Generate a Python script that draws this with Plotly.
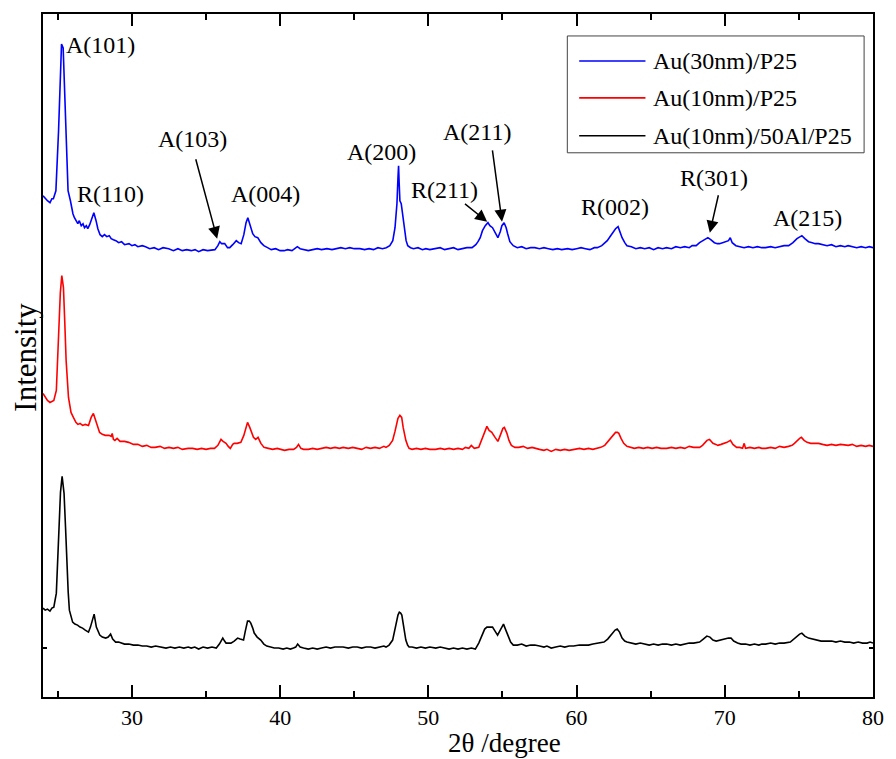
import plotly.graph_objects as go

# ---------------- data (2theta in degree, intensity in a.u. incl. stacking offset) -------------
SERIES_NAMES = ["Au(30nm)/P25", "Au(10nm)/P25", "Au(10nm)/50Al/P25"]
SERIES_COLORS = ["#0000FF", "#FF0000", "#000000"]

blue_pts = [
    (24.00, 502), (24.15, 499), (24.30, 497), (24.47, 495), (24.60, 499), (24.70, 499), (24.87, 507),
    (25.05, 567), (25.15, 620), (25.25, 654), (25.36, 650), (25.45, 610), (25.54, 567), (25.69, 507),
    (25.85, 497), (25.95, 489), (26.02, 484), (26.12, 480), (26.25, 477), (26.35, 474), (26.45, 477),
    (26.58, 472), (26.70, 474), (26.80, 470), (26.92, 472), (27.02, 469), (27.15, 473), (27.25, 477),
    (27.43, 485), (27.58, 477), (27.70, 469), (27.85, 463), (28.00, 461), (28.15, 463), (28.30, 461),
    (28.47, 462), (28.60, 459), (28.75, 458), (28.92, 457), (29.10, 455), (29.30, 456), (29.50, 453),
    (29.80, 454), (30.00, 452), (30.20, 453), (30.40, 451), (30.70, 452), (30.92, 451), (31.20, 449),
    (31.50, 450), (31.80, 448), (32.10, 450), (32.48, 449), (32.80, 447), (33.10, 449), (33.40, 447),
    (33.70, 448), (34.00, 447), (34.26, 448), (34.50, 446), (34.80, 448), (35.10, 447), (35.40, 448),
    (35.60, 448), (35.80, 452), (35.93, 456), (36.05, 454), (36.26, 454), (36.45, 450), (36.60, 450),
    (36.80, 453), (37.04, 457), (37.20, 455), (37.37, 454), (37.55, 463), (37.70, 475), (37.82, 480),
    (37.95, 474), (38.15, 464), (38.30, 461), (38.49, 460), (38.70, 455), (38.90, 452), (39.15, 450),
    (39.40, 448), (39.70, 449), (40.00, 447), (40.27, 447), (40.50, 448), (40.80, 447), (41.00, 449),
    (41.16, 451), (41.35, 449), (41.60, 448), (41.90, 447), (42.20, 448), (42.50, 449), (42.80, 448),
    (43.16, 449), (43.50, 448), (43.80, 449), (44.10, 450), (44.40, 449), (44.70, 450), (45.00, 449),
    (45.38, 449), (45.70, 448), (46.00, 449), (46.30, 448), (46.60, 450), (46.90, 449), (47.16, 450),
    (47.40, 452), (47.60, 457), (47.75, 470), (47.88, 494), (47.95, 520), (47.99, 532), (48.03, 515),
    (48.08, 497), (48.17, 494), (48.28, 482), (48.39, 467), (48.50, 457), (48.61, 452), (48.80, 450),
    (49.00, 449), (49.30, 450), (49.60, 448), (49.83, 449), (50.10, 448), (50.50, 449), (50.80, 450),
    (51.10, 448), (51.40, 449), (51.70, 450), (52.00, 448), (52.30, 449), (52.60, 450), (52.95, 450),
    (53.20, 453), (53.35, 456), (53.50, 460), (53.65, 467), (53.84, 472), (54.02, 475), (54.15, 472),
    (54.33, 470), (54.50, 465), (54.69, 460), (54.85, 466), (54.96, 472), (55.11, 475), (55.25, 470),
    (55.35, 464), (55.50, 456), (55.73, 452), (56.00, 450), (56.30, 451), (56.60, 449), (56.90, 450),
    (57.18, 450), (57.50, 449), (57.80, 450), (58.10, 449), (58.40, 448), (58.70, 449), (59.00, 448),
    (59.40, 449), (59.70, 448), (60.00, 449), (60.30, 450), (60.60, 449), (60.90, 448), (61.20, 450),
    (61.40, 450), (61.70, 452), (62.07, 457), (62.30, 462), (62.50, 467), (62.63, 469), (62.80, 471),
    (62.95, 465), (63.07, 460), (63.25, 455), (63.40, 452), (63.70, 451), (64.00, 449), (64.30, 450),
    (64.60, 449), (64.90, 450), (65.20, 448), (65.50, 450), (65.80, 449), (66.07, 450), (66.40, 449),
    (66.70, 451), (67.00, 450), (67.30, 451), (67.60, 450), (67.80, 452), (68.07, 452), (68.30, 455),
    (68.53, 457), (68.70, 459), (68.86, 460), (69.05, 458), (69.30, 455), (69.50, 454), (69.64, 454),
    (69.85, 455), (70.08, 456), (70.25, 457), (70.37, 460), (70.50, 455), (70.75, 452), (71.00, 451),
    (71.30, 450), (71.60, 451), (71.90, 450), (72.20, 451), (72.50, 450), (72.75, 450), (73.10, 451),
    (73.40, 450), (73.70, 451), (74.00, 452), (74.31, 452), (74.60, 455), (74.87, 459), (75.05, 461),
    (75.20, 462), (75.40, 459), (75.65, 456), (75.90, 455), (76.10, 454), (76.32, 454), (76.60, 453),
    (76.90, 452), (77.20, 453), (77.50, 451), (77.80, 452), (78.10, 451), (78.32, 452), (78.60, 451),
    (78.90, 450), (79.20, 451), (79.50, 450), (79.75, 451), (80.00, 450),
]

red_pts = [
    (24.00, 304), (24.15, 300), (24.30, 297), (24.47, 295), (24.60, 296), (24.73, 297), (24.90, 307),
    (25.07, 370), (25.17, 405), (25.27, 422), (25.38, 410), (25.47, 375), (25.56, 337), (25.72, 300),
    (25.89, 285), (26.05, 280), (26.22, 275), (26.35, 273), (26.50, 274), (26.67, 272), (26.85, 273),
    (27.07, 272), (27.25, 280), (27.40, 284), (27.56, 277), (27.70, 270), (27.82, 265), (28.00, 263),
    (28.20, 262), (28.45, 262), (28.60, 261), (28.67, 264), (28.75, 258), (28.85, 257), (29.00, 259),
    (29.20, 256), (29.50, 256), (29.78, 255), (30.10, 253), (30.40, 253), (30.70, 251), (31.00, 252),
    (31.30, 250), (31.56, 250), (31.90, 251), (32.20, 249), (32.50, 250), (32.80, 249), (33.10, 250),
    (33.40, 248), (33.79, 249), (34.10, 249), (34.40, 248), (34.70, 249), (35.00, 248), (35.30, 249),
    (35.57, 249), (35.80, 252), (36.01, 258), (36.15, 256), (36.35, 254), (36.50, 251), (36.64, 249),
    (36.80, 253), (36.90, 254), (37.10, 254), (37.35, 255), (37.55, 262), (37.70, 270), (37.80, 275),
    (37.95, 270), (38.10, 263), (38.20, 260), (38.35, 258), (38.51, 260), (38.70, 254), (38.91, 250),
    (39.20, 249), (39.50, 248), (39.80, 249), (40.02, 248), (40.30, 247), (40.60, 248), (40.91, 248),
    (41.10, 250), (41.24, 253), (41.40, 249), (41.58, 248), (41.90, 248), (42.20, 249), (42.50, 248),
    (42.80, 249), (43.10, 250), (43.40, 249), (43.70, 250), (44.00, 249), (44.25, 250), (44.60, 249),
    (44.90, 250), (45.20, 249), (45.50, 248), (45.80, 250), (46.10, 249), (46.40, 250), (46.70, 249),
    (47.00, 251), (47.14, 250), (47.35, 252), (47.59, 257), (47.75, 266), (47.86, 274), (47.95, 279),
    (48.08, 282), (48.20, 280), (48.30, 270), (48.40, 262), (48.48, 257), (48.60, 252), (48.70, 249),
    (48.90, 248), (49.20, 249), (49.50, 248), (49.80, 249), (50.10, 248), (50.50, 248), (50.80, 249),
    (51.10, 248), (51.40, 249), (51.70, 248), (52.00, 249), (52.30, 248), (52.50, 250), (52.73, 249),
    (52.90, 252), (53.10, 249), (53.40, 250), (53.55, 256), (53.73, 262), (53.85, 268), (53.95, 271),
    (54.10, 267), (54.28, 265), (54.50, 260), (54.69, 256), (54.80, 260), (54.91, 265), (55.03, 269),
    (55.13, 270), (55.30, 264), (55.44, 257), (55.60, 252), (55.84, 250), (56.10, 250), (56.40, 251),
    (56.70, 249), (57.00, 250), (57.18, 249), (57.50, 248), (57.80, 247), (58.00, 248), (58.29, 246),
    (58.60, 248), (58.90, 247), (59.20, 248), (59.50, 247), (59.85, 248), (60.20, 249), (60.50, 248),
    (60.80, 249), (61.10, 248), (61.40, 249), (61.63, 250), (61.90, 252), (62.18, 257), (62.40, 261),
    (62.63, 265), (62.75, 265), (62.85, 264), (63.00, 259), (63.18, 254), (63.40, 251), (63.63, 250),
    (63.90, 249), (64.20, 250), (64.50, 249), (64.80, 250), (65.10, 249), (65.40, 250), (65.70, 249),
    (66.08, 249), (66.40, 250), (66.70, 249), (67.00, 250), (67.30, 249), (67.60, 251), (67.90, 250),
    (68.30, 250), (68.50, 252), (68.64, 254), (68.80, 257), (68.97, 258), (69.20, 254), (69.40, 253),
    (69.53, 252), (69.75, 253), (69.98, 254), (70.15, 255), (70.38, 257), (70.55, 253), (70.80, 250),
    (71.00, 250), (71.20, 249), (71.31, 254), (71.40, 249), (71.70, 250), (72.00, 249), (72.30, 250),
    (72.50, 249), (72.76, 249), (73.10, 250), (73.40, 249), (73.70, 251), (74.00, 250), (74.30, 251),
    (74.54, 252), (74.70, 254), (74.88, 257), (75.05, 259), (75.17, 260), (75.35, 257), (75.55, 255),
    (75.80, 254), (76.10, 254), (76.33, 254), (76.60, 253), (76.90, 252), (77.20, 253), (77.50, 252),
    (77.80, 253), (78.10, 252), (78.33, 252), (78.60, 253), (78.90, 251), (79.20, 252), (79.50, 251),
    (79.75, 252), (80.00, 251),
]

black_pts = [
    (24.00, 89), (24.15, 87), (24.30, 88), (24.47, 86), (24.60, 89), (24.73, 90), (24.90, 104),
    (25.07, 170), (25.18, 205), (25.29, 221), (25.42, 204), (25.52, 170), (25.60, 137), (25.70, 105),
    (25.78, 87), (25.90, 79), (26.00, 75), (26.15, 73), (26.33, 72), (26.50, 70), (26.67, 69),
    (26.85, 67), (27.07, 65), (27.20, 70), (27.29, 74), (27.45, 83), (27.60, 70), (27.72, 65),
    (27.83, 62), (28.00, 60), (28.23, 59), (28.40, 60), (28.56, 63), (28.70, 58), (28.90, 55),
    (29.10, 55), (29.30, 54), (29.50, 53), (29.79, 53), (30.10, 52), (30.40, 52), (30.70, 51),
    (31.00, 51), (31.30, 50), (31.60, 51), (32.01, 50), (32.30, 49), (32.60, 50), (32.90, 49),
    (33.20, 50), (33.50, 49), (33.80, 50), (34.00, 49), (34.24, 50), (34.50, 48), (34.80, 50),
    (35.10, 49), (35.40, 50), (35.69, 49), (35.90, 53), (36.13, 59), (36.25, 56), (36.35, 54),
    (36.50, 54), (36.68, 54), (36.90, 56), (37.13, 59), (37.30, 58), (37.53, 57), (37.65, 66),
    (37.80, 76), (37.92, 76), (38.02, 74), (38.15, 69), (38.25, 64), (38.45, 60), (38.69, 57),
    (38.90, 53), (39.10, 51), (39.36, 50), (39.60, 49), (39.90, 49), (40.20, 48), (40.45, 49),
    (40.69, 48), (40.90, 49), (41.05, 50), (41.18, 53), (41.35, 50), (41.58, 49), (41.90, 48),
    (42.20, 49), (42.50, 48), (42.80, 49), (43.10, 50), (43.40, 49), (43.70, 50), (44.00, 50),
    (44.25, 50), (44.60, 49), (44.90, 50), (45.20, 50), (45.50, 49), (45.80, 50), (46.10, 50),
    (46.40, 49), (46.70, 50), (47.00, 51), (47.14, 50), (47.35, 52), (47.59, 57), (47.75, 68),
    (47.86, 77), (47.95, 82), (48.04, 85), (48.13, 84), (48.21, 82), (48.32, 70), (48.48, 57),
    (48.60, 52), (48.70, 50), (48.90, 50), (49.20, 49), (49.50, 50), (49.80, 49), (50.10, 50),
    (50.50, 49), (50.80, 50), (51.10, 49), (51.40, 48), (51.70, 49), (52.00, 48), (52.30, 49),
    (52.60, 48), (52.90, 49), (53.17, 48), (53.40, 54), (53.62, 62), (53.80, 68), (53.95, 70),
    (54.15, 70), (54.33, 70), (54.50, 66), (54.67, 62), (54.85, 67), (55.00, 72), (55.07, 73),
    (55.20, 68), (55.40, 60), (55.55, 55), (55.73, 52), (56.00, 52), (56.30, 53), (56.60, 51),
    (56.90, 52), (57.18, 52), (57.50, 51), (57.80, 50), (58.00, 51), (58.29, 49), (58.60, 50),
    (58.90, 51), (59.20, 50), (59.50, 51), (59.80, 51), (60.20, 52), (60.51, 52), (60.80, 52),
    (61.10, 53), (61.40, 54), (61.85, 55), (62.10, 58), (62.41, 64), (62.60, 67), (62.74, 68),
    (62.90, 65), (63.07, 59), (63.25, 56), (63.40, 55), (63.70, 54), (64.00, 53), (64.30, 54),
    (64.60, 53), (64.90, 52), (65.20, 53), (65.50, 52), (65.80, 53), (66.08, 53), (66.40, 52),
    (66.70, 53), (67.00, 52), (67.30, 53), (67.60, 54), (67.90, 54), (68.30, 55), (68.55, 58),
    (68.79, 61), (69.00, 60), (69.20, 57), (69.42, 56), (69.65, 57), (69.85, 58), (70.08, 59),
    (70.25, 59), (70.42, 59), (70.60, 56), (70.86, 54), (71.10, 53), (71.40, 53), (71.70, 52),
    (72.00, 53), (72.30, 52), (72.50, 53), (72.75, 53), (73.10, 54), (73.40, 53), (73.70, 54),
    (74.00, 54), (74.42, 55), (74.65, 58), (74.87, 60), (75.05, 63), (75.20, 64), (75.40, 61),
    (75.65, 59), (75.90, 58), (76.20, 57), (76.50, 56), (76.80, 56), (77.21, 56), (77.50, 55),
    (77.80, 56), (78.10, 55), (78.40, 55), (78.70, 54), (79.00, 55), (79.30, 54), (79.60, 54),
    (79.80, 55), (80.00, 54),
]

# peak labels: (text, x, y)
PEAK_LABELS = [
    ("A(101)", 27.90, 653), ("R(110)", 28.58, 504), ("A(103)", 34.07, 559),
    ("A(004)", 39.02, 504), ("A(200)", 46.83, 546), ("R(211)", 51.10, 508),
    ("A(211)", 53.30, 566), ("R(002)", 62.58, 491), ("R(301)", 69.26, 520),
    ("A(215)", 75.60, 480),
]
# arrows: (tail x, tail y, head x, head y)
PEAK_ARROWS = [
    (34.28, 540, 35.75, 459),
    (52.37, 495, 53.97, 476),
    (54.31, 549, 54.97, 476),
    (69.59, 504, 68.99, 465),
]

X_RANGE = [24, 80]
Y_RANGE = [0, 684]
X_TICKS = [30, 40, 50, 60, 70, 80]
Y_TICKS = [49]

FONT = "Liberation Serif, Times New Roman, serif"

fig = go.Figure()
for name, color, pts in zip(SERIES_NAMES, SERIES_COLORS, [blue_pts, red_pts, black_pts]):
    fig.add_trace(go.Scatter(
        x=[p[0] for p in pts], y=[p[1] for p in pts], mode="lines", name=name,
        line=dict(color=color, width=1.6), showlegend=False,
    ))

annotations = []
for txt, x, y in PEAK_LABELS:
    annotations.append(dict(x=x, y=y, xref="x", yref="y", text=txt, showarrow=False,
                            font=dict(family=FONT, size=24, color="black"),
                            xanchor="center", yanchor="middle"))
for tx, ty, hx, hy in PEAK_ARROWS:
    annotations.append(dict(x=hx, y=hy, ax=tx, ay=ty, xref="x", yref="y", axref="x", ayref="y",
                            text="", showarrow=True, arrowhead=2, arrowsize=1.6, arrowwidth=1.5,
                            arrowcolor="black", standoff=0, startstandoff=0))

# plot area in pixels: left 43, right 882 (width 839), top 13, bottom 697 (height 684)
PW, PH = 839.0, 684.0
def px_x(px):
    return (px - 43) / PW
def px_y(py):
    return (697 - py) / PH

# axis titles
annotations.append(dict(x=px_x(510), y=px_y(743), xref="paper", yref="paper", text="2θ /degree",
                        showarrow=False, font=dict(family=FONT, size=27, color="black"),
                        xanchor="center", yanchor="middle"))
annotations.append(dict(x=px_x(25), y=px_y(357), xref="paper", yref="paper", text="Intensity",
                        showarrow=False, textangle=-90, font=dict(family=FONT, size=31, color="black"),
                        xanchor="center", yanchor="middle"))

# manual legend
shapes = [dict(type="rect", xref="paper", yref="paper", x0=px_x(573), x1=px_x(873),
               y0=px_y(152), y1=px_y(35), line=dict(color="#444444", width=1), fillcolor="white")]
row_py = [60, 97, 135]
for name, color, ry in zip(SERIES_NAMES, SERIES_COLORS, row_py):
    shapes.append(dict(type="line", xref="paper", yref="paper", x0=px_x(585), x1=px_x(652),
                       y0=px_y(ry), y1=px_y(ry), line=dict(color=color, width=1.6)))
    annotations.append(dict(x=px_x(658), y=px_y(ry), xref="paper", yref="paper", text=name,
                            showarrow=False, font=dict(family=FONT, size=24, color="black"),
                            xanchor="left", yanchor="middle"))

fig.update_layout(
    width=896, height=759,
    margin=dict(l=43, r=14, t=13, b=62),
    paper_bgcolor="white", plot_bgcolor="white",
    font=dict(family=FONT, color="black"),
    annotations=annotations, shapes=shapes,
)
fig.update_xaxes(
    range=X_RANGE, tickvals=X_TICKS, ticks="inside", ticklen=12, tickwidth=1.5, tickcolor="black",
    minor=dict(dtick=5, tick0=25, ticks="inside", ticklen=6, tickwidth=1.5, tickcolor="black"),
    showline=True, linewidth=1.5, linecolor="black", mirror="ticks", showgrid=False, zeroline=False,
    tickfont=dict(family=FONT, size=22, color="black"),
)
fig.update_yaxes(
    range=Y_RANGE, tickvals=Y_TICKS, ticks="inside", ticklen=4, tickwidth=1.5, tickcolor="black",
    showticklabels=False, showline=True, linewidth=1.5, linecolor="black", mirror="ticks",
    showgrid=False, zeroline=False,
)

fig.write_html("out.html")
